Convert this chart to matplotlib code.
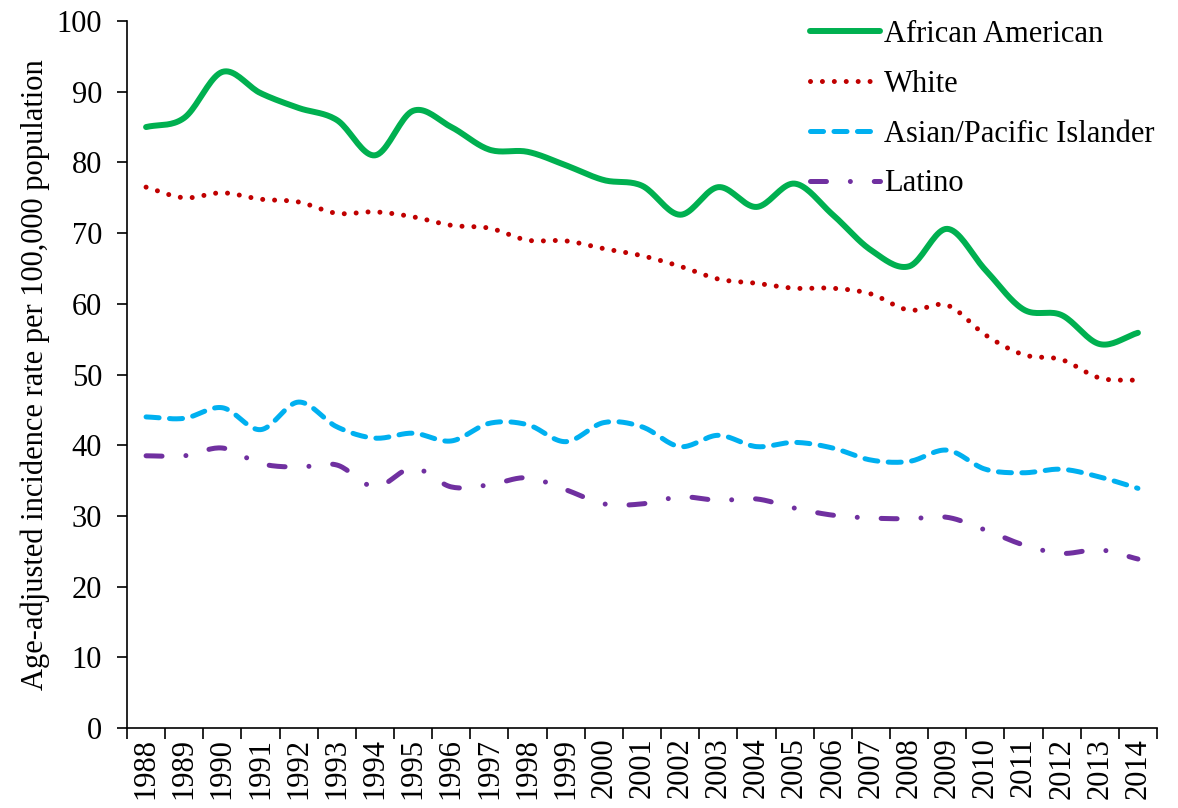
import numpy as np
import matplotlib.pyplot as plt

plt.rcParams['font.family'] = ['Liberation Serif', 'DejaVu Serif']
plt.rcParams['lines.scale_dashes'] = False

years = list(range(1988, 2015))
african_american = [85.0, 86.3, 92.8, 89.8, 87.7, 86.0, 81.0, 87.3, 85.0, 81.8,
                    81.5, 79.6, 77.5, 76.7, 72.6, 76.5, 73.7, 77.0, 72.6, 67.6,
                    65.3, 70.6, 64.8, 59.2, 58.4, 54.3, 55.9]
white = [76.5, 75.0, 75.7, 74.8, 74.4, 72.8, 73.0, 72.3, 71.1, 70.7,
         69.0, 68.9, 67.8, 66.8, 65.3, 63.5, 62.9, 62.2, 62.2, 61.4,
         59.1, 59.8, 55.6, 52.8, 52.1, 49.5, 49.2]
asian_pi = [44.0, 43.8, 45.3, 42.2, 46.1, 42.6, 41.0, 41.7, 40.6, 43.1,
            42.9, 40.5, 43.2, 42.6, 39.8, 41.4, 39.8, 40.4, 39.6, 37.9,
            37.7, 39.3, 36.6, 36.1, 36.6, 35.5, 33.9]
latino = [38.5, 38.5, 39.6, 37.4, 36.9, 37.2, 34.1, 36.8, 34.1, 34.4,
          35.4, 33.7, 31.7, 31.7, 32.7, 32.2, 32.4, 31.1, 30.1, 29.7,
          29.6, 29.8, 28.0, 25.9, 24.7, 25.2, 23.9]


def smooth(x, y, n=20):
    # Catmull-Rom curve through the points (like a spreadsheet "smoothed line")
    x = np.asarray(x, float)
    y = np.asarray(y, float)
    px = np.concatenate([[2 * x[0] - x[1]], x, [2 * x[-1] - x[-2]]])
    py = np.concatenate([[2 * y[0] - y[1]], y, [2 * y[-1] - y[-2]]])
    xs, ys = [], []
    t = np.linspace(0, 1, n, endpoint=False)
    for i in range(1, len(px) - 2):
        for p, out in ((px, xs), (py, ys)):
            p0, p1, p2, p3 = p[i - 1], p[i], p[i + 1], p[i + 2]
            out.extend(0.5 * (2 * p1 + (-p0 + p2) * t
                              + (2 * p0 - 5 * p1 + 4 * p2 - p3) * t ** 2
                              + (-p0 + 3 * p1 - 3 * p2 + p3) * t ** 3))
    xs.append(x[-1])
    ys.append(y[-1])
    return xs, ys


fig = plt.figure(figsize=(11.78, 8.08), dpi=100)
ax = fig.add_axes([127 / 1178, 80 / 808, 1030 / 1178, 707 / 808])

idx = np.arange(len(years))
series = [
    ("African American", african_american, dict(color='#00B050', lw=4.3, linestyle='-',
                                                 solid_capstyle='round')),
    ("White", white, dict(color='#C00000', lw=3.6, linestyle=(0, (0.01, 8.57)),
                          dash_capstyle='round')),
    ("Asian/Pacific Islander", asian_pi, dict(color='#00B0F0', lw=3.6,
                                              linestyle=(0, (9.4, 7.5)),
                                              dash_capstyle='round')),
    ("Latino", latino, dict(color='#7030A0', lw=3.6,
                            linestyle=(0, (11.5, 17.2, 0.01, 17.2)),
                            dash_capstyle='round')),
]
for name, vals, style in series:
    sx, sy = smooth(idx, vals)
    ax.plot(sx, sy, label=name, **style)

ax.set_xlim(-0.5, len(years) - 0.5)
ax.set_ylim(0, 100)
ax.set_yticks(range(0, 101, 10))
ax.tick_params(axis='y', labelsize=22, length=7, width=1.2, direction='out', pad=11)
ax.set_xticks(idx)
ax.set_xticklabels([str(y) for y in years], rotation=90, fontsize=22)
ax.tick_params(axis='x', length=0, pad=7)
ax.set_xticks(np.arange(-0.5, len(years)), minor=True)
ax.tick_params(axis='x', which='minor', length=8, width=1.2, direction='out')
for side in ('top', 'right'):
    ax.spines[side].set_visible(False)
for side in ('left', 'bottom'):
    ax.spines[side].set_linewidth(1.2)

ax.set_ylabel("Age-adjusted incidence rate per 100,000 population", fontsize=22,
              labelpad=5)

ax.legend(loc='upper left', bbox_to_anchor=(810 / 1178, 1 - 20 / 808),
          bbox_transform=fig.transFigure, frameon=False, fontsize=22,
          handlelength=2.3, handletextpad=0.12, labelspacing=0.68,
          borderpad=0, borderaxespad=0)

fig.savefig("out.png", dpi=100)
